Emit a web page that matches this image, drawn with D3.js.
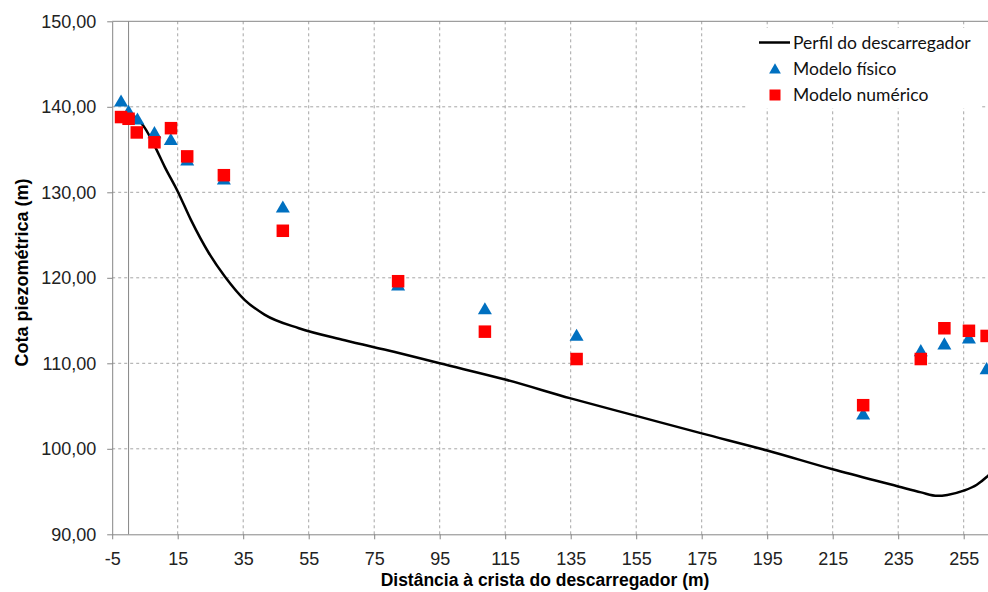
<!DOCTYPE html>
<html>
<head>
<meta charset="utf-8">
<script src="https://cdn.jsdelivr.net/npm/d3@7"></script>
<style>
  body { margin: 0; background: #fff; }
  svg { display: block; }
</style>
</head>
<body>
<div id="chart"></div>
<script>
// Perfil do descarregador (linha)
const perfilX = [0, 3, 5, 8, 11, 15, 19, 24.5, 29.5, 35.5, 41.5, 52, 66, 81, 95, 115, 135, 155, 175, 195, 215, 235, 242, 247, 250, 255, 259, 262, 266, 270];
const perfilY = [139.3, 138.5, 137.5, 135.4, 133.0, 130.1, 126.8, 122.9, 120.1, 117.4, 115.7, 114.1, 112.7, 111.35, 110.0, 108.1, 105.9, 103.85, 101.8, 99.8, 97.6, 95.6, 94.9, 94.5, 94.6, 95.1, 95.8, 96.7, 98.3, 100.0];

// Modelo físico (triângulos)
const fisicoX = [-2.3, 0, 2.7, 7.9, 12.9, 17.9, 29.1, 47.1, 82.3, 108.8, 136.8, 224.3, 241.9, 249.1, 256.6, 262.0];
const fisicoY = [140.5, 139.3, 138.4, 136.8, 136.0, 133.6, 131.4, 128.1, 119.0, 116.2, 113.1, 103.9, 111.3, 112.1, 112.8, 109.2];

// Modelo numérico (quadrados)
const numericoX = [-2.3, 0, 2.5, 7.9, 12.95, 17.9, 29.1, 47.1, 82.3, 108.8, 136.8, 224.3, 241.9, 249.1, 256.6, 262.0];
const numericoY = [138.8, 138.6, 137.0, 135.85, 137.5, 134.2, 132.0, 125.5, 119.6, 113.7, 110.5, 105.1, 110.5, 114.1, 113.8, 113.2];

const xTicks = [-5, 15, 35, 55, 75, 95, 115, 135, 155, 175, 195, 215, 235, 255];
const yTicks = [90, 100, 110, 120, 130, 140, 150];

const legendLabels = ["Perfil do descarregador", "Modelo físico", "Modelo numérico"];

const W = 988, H = 592;
const margin = { top: 21.3, left: 112.2 };
const plotH = 513;
const plotW = 280 * 3.275;

const svg = d3.select("#chart").append("svg")
    .attr("width", W)
    .attr("height", H);

const x = d3.scaleLinear().domain([-5, 275]).range([margin.left, margin.left + plotW]);
const y = d3.scaleLinear().domain([90, 150]).range([margin.top + plotH, margin.top]);

const gridColor = "#a6a6a6";
const axisColor = "#868686";

// linhas de grelha
svg.append("g")
    .selectAll("line")
    .data(xTicks.slice(1))
    .enter().append("line")
    .attr("x1", d => x(d)).attr("x2", d => x(d))
    .attr("y1", y(150)).attr("y2", y(90))
    .attr("stroke", gridColor)
    .attr("stroke-dasharray", "3,3");

svg.append("g")
    .selectAll("line")
    .data(yTicks.filter(d => d > 90 && d < 150))
    .enter().append("line")
    .attr("x1", x(-5)).attr("x2", x(275))
    .attr("y1", d => y(d)).attr("y2", d => y(d))
    .attr("stroke", gridColor)
    .attr("stroke-dasharray", "3,3");

// borda superior
svg.append("line")
    .attr("x1", x(-5)).attr("x2", x(275))
    .attr("y1", y(150)).attr("y2", y(150))
    .attr("stroke", axisColor);

// linha vertical em x = 0
svg.append("line")
    .attr("x1", x(0)).attr("x2", x(0))
    .attr("y1", y(150)).attr("y2", y(90))
    .attr("stroke", axisColor);

// eixos
const fmt = d => d3.format(".2f")(d).replace(".", ",");

const xAxis = svg.append("g")
    .attr("transform", `translate(0,${y(90)})`)
    .call(d3.axisBottom(x).tickValues(xTicks).tickSize(5).tickSizeOuter(0).tickFormat(d => String(d)));

const yAxis = svg.append("g")
    .attr("transform", `translate(${x(-5)},0)`)
    .call(d3.axisLeft(y).tickValues(yTicks).tickSize(5).tickSizeOuter(0).tickPadding(11).tickFormat(fmt));

[xAxis, yAxis].forEach(g => {
    g.select(".domain").attr("stroke", axisColor);
    g.selectAll(".tick line").attr("stroke", axisColor);
    g.selectAll("text")
        .style("font-family", "'Liberation Sans', Arial, sans-serif")
        .style("font-size", "18px")
        .attr("fill", "#222");
});
xAxis.selectAll("text").attr("y", 18);

// títulos dos eixos
svg.append("text")
    .attr("x", 545)
    .attr("y", 586)
    .attr("text-anchor", "middle")
    .style("font-family", "'Liberation Sans', Arial, sans-serif")
    .style("font-size", "17.5px")
    .style("font-weight", "bold")
    .text("Distância à crista do descarregador (m)");

svg.append("text")
    .attr("transform", `translate(28,272.5) rotate(-90)`)
    .attr("text-anchor", "middle")
    .style("font-family", "'Liberation Sans', Arial, sans-serif")
    .style("font-size", "18px")
    .style("font-weight", "bold")
    .text("Cota piezométrica (m)");

// perfil
const perfil = perfilX.map((d, i) => [d, perfilY[i]]);
svg.append("path")
    .datum(perfil)
    .attr("fill", "none")
    .attr("stroke", "#000")
    .attr("stroke-width", 2.5)
    .attr("d", d3.line().x(d => x(d[0])).y(d => y(d[1])).curve(d3.curveMonotoneX));

// modelo físico
const tri = d3.symbol().type(d3.symbolTriangle).size(85);
svg.append("g")
    .selectAll("path")
    .data(fisicoX.map((d, i) => [d, fisicoY[i]]))
    .enter().append("path")
    .attr("transform", d => `translate(${x(d[0])},${y(d[1])})`)
    .attr("d", tri)
    .attr("fill", "#0070c0");

// modelo numérico
const sq = 12.5;
svg.append("g")
    .selectAll("rect")
    .data(numericoX.map((d, i) => [d, numericoY[i]]))
    .enter().append("rect")
    .attr("x", d => x(d[0]) - sq / 2)
    .attr("y", d => y(d[1]) - sq / 2)
    .attr("width", sq)
    .attr("height", sq)
    .attr("fill", "#ff0000");

// legenda
const legend = svg.append("g");
legend.append("rect")
    .attr("x", 748).attr("y", 28)
    .attr("width", 234).attr("height", 80)
    .attr("fill", "#fff");

const legY = [42.5, 69, 95];
legend.append("line")
    .attr("x1", 759).attr("x2", 790)
    .attr("y1", legY[0]).attr("y2", legY[0])
    .attr("stroke", "#000").attr("stroke-width", 2.5);
legend.append("path")
    .attr("transform", `translate(775,${legY[1] + 1})`)
    .attr("d", d3.symbol().type(d3.symbolTriangle).size(60))
    .attr("fill", "#0070c0");
legend.append("rect")
    .attr("x", 775 - 5.5).attr("y", legY[2] - 5.5)
    .attr("width", 11).attr("height", 11)
    .attr("fill", "#ff0000");

legend.selectAll(".leg-text")
    .data(legendLabels)
    .enter().append("text")
    .attr("class", "leg-text")
    .attr("x", 793)
    .attr("y", (d, i) => legY[i] + 6)
    .style("font-family", "Lato, 'Open Sans', sans-serif")
    .style("font-size", "17.5px")
    .attr("fill", "#111")
    .text(d => d);
</script>
</body>
</html>
